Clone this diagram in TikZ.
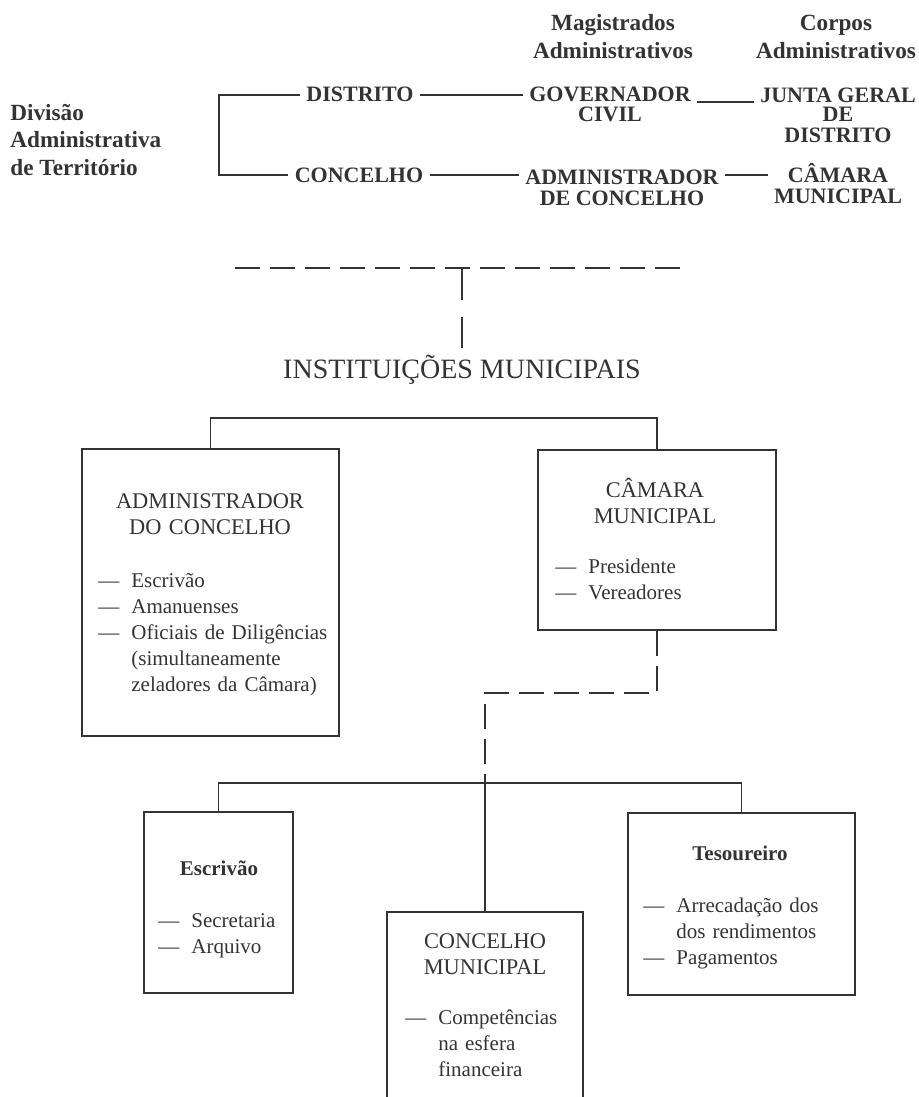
\documentclass[tikz,border=0pt]{standalone}
\usepackage{fontspec}
\setmainfont{Liberation Serif}
\usetikzlibrary{positioning,calc}
\definecolor{ink}{HTML}{333333}
\tikzset{
  colhead/.style  = {font=\bfseries\fontsize{11.6}{14}\selectfont, align=center,
                     text=ink, inner sep=0pt, anchor=base},
  headcell/.style = {font=\bfseries\fontsize{11}{10}\selectfont, align=center,
                     text=ink, inner xsep=3pt, inner ysep=1pt, anchor=base},
  insttitle/.style= {font=\fontsize{14}{16}\selectfont, text=ink, anchor=base},
  orgbox/.style   = {draw=ink, line width=0.9pt, inner sep=0pt},
  boxhead/.style  = {font=\fontsize{11.2}{13}\selectfont, text=ink, text width=110pt,
                     align=center, inner sep=0pt, anchor=base},
  boxname/.style  = {font=\bfseries\fontsize{10.5}{13}\selectfont, text=ink,
                     inner sep=0pt, anchor=base},
  boxlist/.style  = {font=\fontsize{10.5}{13}\selectfont, text=ink, text width=120pt,
                     align=left, inner sep=0pt, anchor=base west},
  link/.style     = {draw=ink, line width=0.75pt},
  dashlink/.style = {draw=ink, line width=1.2pt, dash pattern=on 12.5pt off 5pt}
}
\newcommand{\dashitem}{\makebox[16.5pt][l]{—}}
\newcommand{\hang}{\hspace*{16.5pt}}

\begin{document}
\begin{tikzpicture}[x=0.5pt,y=-0.5pt]
\useasboundingbox (0,0) rectangle (918,1097);

% --- column heads (placed by the baseline of their last line) ----------------
\node[colhead] (magis)  at (613,59) {Magistrados\\Administrativos};
\node[colhead] (corpos) at (836,59) {Corpos\\Administrativos};
\node[colhead, align=left, anchor=base west] (divisao) at (10,176)
     {Divisão\\Administrativa\\de Território};

% --- territory, magistrates and bodies --------------------------------------
\node[headcell] (distrito)      at (360,102) {DISTRITO};
\node[headcell] (concelho)      at (359,182) {CONCELHO};
\node[headcell] (governador)    at (610,122) {GOVERNADOR\\CIVIL};
\node[headcell] (junta)         at (838,142) {JUNTA GERAL\\DE\\DISTRITO};
\node[headcell] (administrador) at (622,205) {ADMINISTRADOR\\DE CONCELHO};
\node[headcell] (camaradist)    at (838,203) {CÂMARA\\MUNICIPAL};

\coordinate (brk) at (219,100);
\draw[link] (distrito.west) -- (distrito.west -| brk) |- (concelho.west);
\draw[link] (distrito.east) -- (distrito.east -| governador.west);
\draw[link] (governador.east |- distrito.base) -- (junta.west |- distrito.base);
\draw[link] (concelho.east) -- (concelho.east -| administrador.west);
\draw[link] (concelho.east -| administrador.east) -- (concelho.east -| camaradist.west);

% --- break towards the municipal institutions -------------------------------
\coordinate (dashL) at (235,268);
\coordinate (dashR) at (688,268);
\draw[dashlink] (dashL) -- (dashR);
\node[insttitle] (inst) at (462,378) {INSTITUIÇÕES MUNICIPAIS};
\draw[dashlink, dash pattern=on 16pt off 8.5pt] (inst.north |- dashL) -- (inst.north);

% --- first level ------------------------------------------------------------
\node[orgbox, minimum width=128.5pt, minimum height=143.5pt] (admin)  at (210.5,592.5) {};
\node[orgbox, minimum width=119pt,   minimum height=90pt]    (camara) at (657,540) {};

\node[boxhead] (adminhead) at (210,508) {ADMINISTRADOR\\DO CONCELHO};
\node[boxlist] (adminlist) at (98,587)
     {\dashitem Escrivão\\\dashitem Amanuenses\\\dashitem Oficiais de Diligências\\
      \hang (simultaneamente\\\hang zeladores da Câmara)};
\node[boxhead] (camarahead) at (655,497) {CÂMARA\\MUNICIPAL};
\node[boxlist] (camaralist) at (555,573) {\dashitem Presidente\\\dashitem Vereadores};

\coordinate (instbar) at (0,418);
\draw[link] (admin.north) -- (admin.north |- instbar) -| (camara.north);

% --- services of the chamber ------------------------------------------------
\node[orgbox, minimum width=74.5pt,  minimum height=90.5pt] (escrivao)   at (218.5,902.5) {};
\node[orgbox, minimum width=98pt,    minimum height=99pt]   (conselho)   at (485,1011) {};
\node[orgbox, minimum width=113.5pt, minimum height=91pt]   (tesoureiro) at (741.5,904) {};

\node[boxname] (escrivaohead) at (219,875) {Escrivão};
\node[boxlist] (escrivaolist) at (158,927) {\dashitem Secretaria\\\dashitem Arquivo};
\node[boxhead] (conselhohead) at (485,948) {CONCELHO\\MUNICIPAL};
\node[boxlist] (conselholist) at (405,1024)
     {\dashitem Competências\\\hang na esfera\\\hang financeira};
\node[boxname] (tesoureirohead) at (740,860) {Tesoureiro};
\node[boxlist] (tesoureirolist) at (643,912)
     {\dashitem Arrecadação dos\\\hang dos rendimentos\\\dashitem Pagamentos};

\coordinate (elbow)  at (485,693);
\coordinate (subbar) at (0,783);
\draw[dashlink] (camara.south) -- (camara.south |- elbow) -- (elbow) -- (elbow |- subbar);
\draw[link] (escrivao.north) -- (escrivao.north |- subbar) -| (tesoureiro.north);
\draw[link] (conselho.north |- subbar) -- (conselho.north);

\end{tikzpicture}
\end{document}
